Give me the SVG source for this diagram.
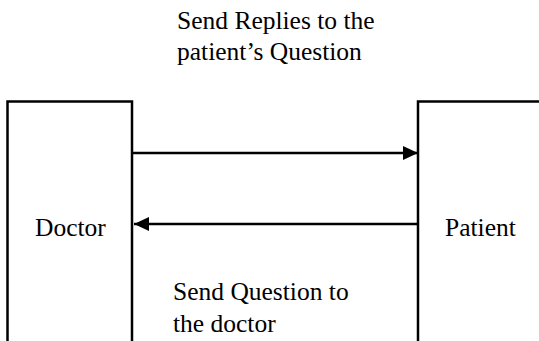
<svg xmlns="http://www.w3.org/2000/svg" width="539" height="341" viewBox="0 0 539 341" font-family="'Liberation Serif', 'Times New Roman', serif">
<style>
.box{fill:none;stroke:#000;stroke-width:2.5}
.ln{stroke:#000;stroke-width:2.5;fill:none}
.t{font-family:'Liberation Serif','Times New Roman',serif;font-size:25.5px;fill:#000}
</style>
<defs>
<marker id="ah" markerUnits="userSpaceOnUse" markerWidth="16" markerHeight="14" refX="15" refY="7" orient="auto">
<path d="M0,0 L15,7 L0,14 Z" fill="#000"/>
</marker>
</defs>
<rect width="539" height="341" fill="#fff"/>
<g id="doctor">
<rect class="box" x="7.5" y="101.5" width="124.5" height="260"/>
<text class="t" x="35" y="236">Doctor</text>
</g>
<g id="patient">
<rect class="box" x="418" y="101.5" width="140" height="260"/>
<text class="t" x="445" y="236">Patient</text>
</g>
<g id="connectors">
<line class="ln" x1="133" y1="153" x2="418" y2="153" marker-end="url(#ah)"/>
<line class="ln" x1="417" y1="224" x2="134" y2="224" marker-end="url(#ah)"/>
</g>
<g id="labels">
<text class="t" x="177" y="29">Send Replies to the</text>
<text class="t" x="177" y="60">patient’s Question</text>
<text class="t" x="173" y="300">Send Question to</text>
<text class="t" x="173" y="332">the doctor</text>
</g>
</svg>
